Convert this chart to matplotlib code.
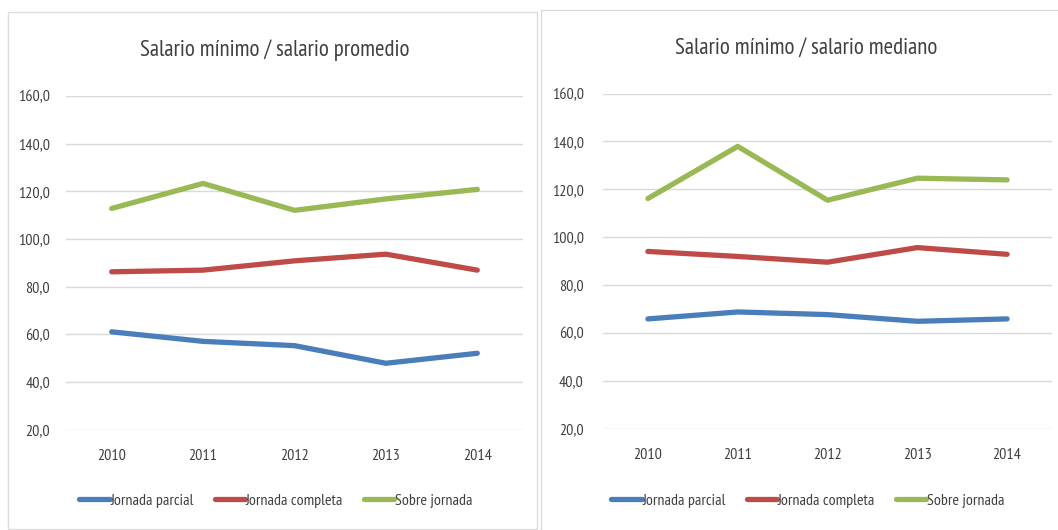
import matplotlib
matplotlib.use("Agg")
import matplotlib.pyplot as plt
from matplotlib.patches import Rectangle

years = ["2010", "2011", "2012", "2013", "2014"]
series_names = ["Jornada parcial", "Jornada completa", "Sobre jornada"]
colors = ["#4A7EBB", "#BE4B48", "#98B954"]

# Salario mínimo / salario promedio
prom_parcial = [61.0, 57.0, 55.2, 47.8, 52.0]
prom_completa = [86.2, 86.9, 90.8, 93.6, 86.9]
prom_sobre = [112.8, 123.3, 112.0, 116.8, 120.8]

# Salario mínimo / salario mediano
med_parcial = [65.8, 68.7, 67.6, 64.8, 65.8]
med_completa = [94.0, 91.9, 89.5, 95.6, 92.8]
med_sobre = [116.1, 137.9, 115.4, 124.6, 123.9]

titles = ["Salario mínimo / salario promedio", "Salario mínimo / salario mediano"]
yticks = [20, 40, 60, 80, 100, 120, 140, 160]
ytick_labels = ["20,0", "40,0", "60,0", "80,0", "100,0", "120,0", "140,0", "160,0"]

plt.rcParams['font.family'] = ['PT Sans Narrow', 'DejaVu Sans']

W, H = 1058, 530
fig = plt.figure(figsize=(W / 100, H / 100), dpi=100)
fig.patch.set_facecolor("white")

def fx(px):
    return px / W

def fy(py):
    return 1 - py / H

# panel frames
fig.add_artist(Rectangle((fx(8), fy(529)), fx(537) - fx(8), fy(12) - fy(529),
                         transform=fig.transFigure, fill=False, edgecolor="#DCDCDC", lw=1.0))
fig.add_artist(Rectangle((fx(541), fy(540)), fx(1070) - fx(541), fy(10) - fy(540),
                         transform=fig.transFigure, fill=False, edgecolor="#DCDCDC", lw=1.0))

panels = [
    dict(x0=66, x1=523, ytop=96, ybot=429.5, data=[prom_parcial, prom_completa, prom_sobre],
         title_x=275, title_y=50, leg_x=276, leg_y=501, ypad=11.5),
    dict(x0=603, x1=1052, ytop=93.5, ybot=428.5, data=[med_parcial, med_completa, med_sobre],
         title_x=806, title_y=48, leg_x=808, leg_y=501, ypad=14),
]

for p, title in zip(panels, titles):
    ax = fig.add_axes([fx(p["x0"]), fy(p["ybot"]), fx(p["x1"]) - fx(p["x0"]), fy(p["ytop"]) - fy(p["ybot"])])
    x = list(range(len(years)))
    handles = []
    for vals, name, c in zip(p["data"], series_names, colors):
        h, = ax.plot(x, vals, color=c, lw=3.8, solid_capstyle="round", solid_joinstyle="round", label=name)
        handles.append(h)
    ax.set_xlim(-0.5, len(years) - 0.5)
    ax.set_ylim(20, 160)
    ax.set_yticks(yticks)
    ax.set_yticklabels(ytick_labels)
    ax.set_xticks(x)
    ax.set_xticklabels(years)
    ax.grid(axis="y", color="#D9D9D9", lw=1.0)
    ax.set_axisbelow(True)
    for s in ax.spines.values():
        s.set_visible(False)
    ax.tick_params(axis="both", length=0, labelsize=11.5, colors="#404040")
    ax.tick_params(axis="y", pad=p["ypad"])
    ax.tick_params(axis="x", pad=14)
    fig.text(fx(p["title_x"]), fy(p["title_y"]), title, ha="center", va="center",
             fontsize=16.5, color="#404040")
    fig.legend(handles=handles, labels=series_names, loc="center",
               bbox_to_anchor=(fx(p["leg_x"]), fy(p["leg_y"])), ncol=3, frameon=False,
               fontsize=11.5, handlelength=1.9, handletextpad=0.05, columnspacing=1.3,
               labelcolor="#404040")

fig.savefig("out.png", dpi=100, facecolor="white")
